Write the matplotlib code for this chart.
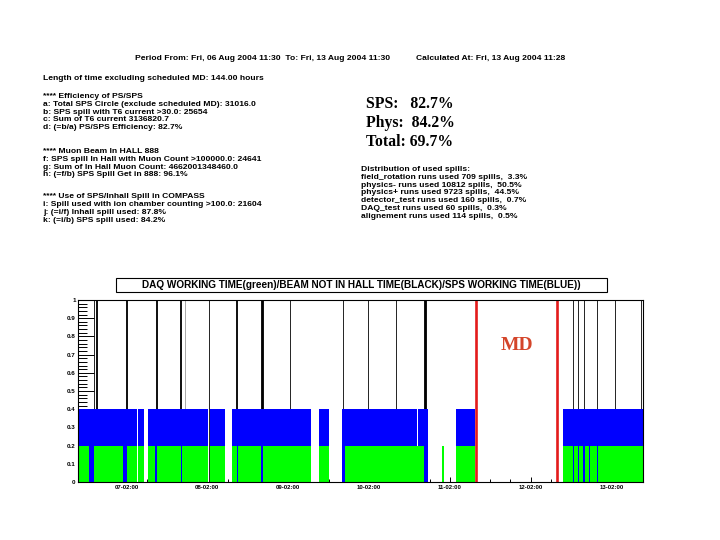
import matplotlib
matplotlib.use("Agg")
import matplotlib.pyplot as plt
from matplotlib.patches import Rectangle

# hours counted from Fri, 06 Aug 2004 11:30
sps_start = [0.0, 18.0, 20.79, 39.2, 45.83, 71.58, 78.5, 101.17, 112.45, 144.23]
sps_end = [17.52, 19.78, 38.79, 43.84, 69.38, 74.55, 100.78, 104.14, 118.15, 168.0]

daq_start = [0.0, 4.75, 14.73, 18.0, 20.79, 23.46, 31.07, 39.2, 45.83, 47.7, 55.04,
             71.58, 79.3, 108.2, 112.45, 144.23, 147.5, 148.98, 150.59, 152.25, 154.45]
daq_end = [3.36, 13.54, 17.52, 19.78, 22.96, 30.68, 38.61, 43.84, 47.31, 54.53, 69.38,
           74.55, 102.77, 108.7, 118.1, 147.11, 148.6, 150.17, 151.95, 154.15, 168.0]

beam_off = [4.75, 5.64, 14.49, 23.26, 30.59, 39.09, 47.16, 54.74, 63.06, 78.89,
            86.31, 94.54, 103.15, 147.2, 148.69, 150.44, 154.3, 159.65, 167.22]
beam_off_len = [0.05, 0.15, 0.05, 0.3, 0.3, 0.05, 0.05, 0.75, 0.05, 0.05,
                0.05, 0.05, 0.8, 0.05, 0.05, 0.1, 0.1, 0.1, 0.05]
beam_partial = [31.87]

md_start = 118.42
md_end = 142.36

day_ticks = [14.5, 38.5, 62.5, 86.5, 110.5, 134.5, 158.5]
day_labels = ["07-02:00", "08-02:00", "09-02:00", "10-02:00", "11-02:00", "12-02:00", "13-02:00"]
y_ticks = [0, 0.1, 0.2, 0.3, 0.4, 0.5, 0.6, 0.7, 0.8, 0.9, 1]
y_labels = ["0", "0.1", "0.2", "0.3", "0.4", "0.5", "0.6", "0.7", "0.8", "0.9", "1"]

header_left = "Period From: Fri, 06 Aug 2004 11:30  To: Fri, 13 Aug 2004 11:30"
header_right = "Calculated At: Fri, 13 Aug 2004 11:28"
length_line = "Length of time excluding scheduled MD: 144.00 hours"
eff_lines = ["**** Efficiency of PS/SPS",
             "a: Total SPS Circle (exclude scheduled MD): 31016.0",
             "b: SPS spill with T6 current >30.0: 25654",
             "c: Sum of T6 current 3136820.7",
             "d: (=b/a) PS/SPS Efficiency: 82.7%"]
muon_lines = ["**** Muon Beam In HALL 888",
              "f: SPS spill In Hall with Muon Count >100000.0: 24641",
              "g: Sum of In Hall Muon Count: 4662001348460.0",
              "h: (=f/b) SPS Spill Get in 888: 96.1%"]
use_lines = ["**** Use of SPS/Inhall Spill in COMPASS",
             "i: Spill used with ion chamber counting >100.0: 21604",
             "j: (=i/f) Inhall spill used: 87.8%",
             "k: (=i/b) SPS spill used: 84.2%"]
summary_lines = ["SPS:   82.7%", "Phys:  84.2%", "Total: 69.7%"]
dist_lines = ["Distribution of used spills:",
              "field_rotation runs used 709 spills,  3.3%",
              "physics- runs used 10812 spills,  50.5%",
              "physics+ runs used 9723 spills,  44.5%",
              "detector_test runs used 160 spills,  0.7%",
              "DAQ_test runs used 60 spills,  0.3%",
              "alignement runs used 114 spills,  0.5%"]
title = "DAQ WORKING TIME(green)/BEAM NOT IN HALL TIME(BLACK)/SPS WORKING TIME(BLUE))"

W, H = 720.0, 540.0


def fx(px):
    return px / W


def fy(py):
    return 1 - py / H


def block(fig, lines, x, y0, step, **kw):
    for k, s in enumerate(lines):
        fig.text(fx(x), fy(y0 + k * step), s, va="center", ha="left", **kw)


def main():
    plt.rcParams['font.family'] = ['Liberation Sans', 'DejaVu Sans']
    plt.rcParams['font.weight'] = 'bold'
    fig = plt.figure(figsize=(7.2, 5.4), dpi=100)

    # texto de cabecera
    fs = 6.1
    fig.text(fx(135), fy(59), header_left, fontsize=fs, va="center")
    fig.text(fx(416), fy(59), header_right, fontsize=fs, va="center")
    block(fig, [length_line], 42.7, 78.3, 7.7, fontsize=fs)
    block(fig, eff_lines, 42.7, 96.7, 7.65, fontsize=fs)
    block(fig, muon_lines, 42.7, 151.7, 7.75, fontsize=fs)
    block(fig, use_lines, 42.7, 196.7, 7.85, fontsize=fs)
    block(fig, summary_lines, 366, 104.3, 18.7, fontsize=11.3,
          family='Liberation Serif')
    block(fig, dist_lines, 360.7, 169.3, 7.9, fontsize=fs)

    # caja del titulo
    fig.add_artist(Rectangle((fx(116), fy(291.7)), (607 - 116) / W, 13.4 / H,
                             transform=fig.transFigure, fill=False,
                             edgecolor='k', linewidth=0.8))
    fig.text(fx(361), fy(285), title, fontsize=7.2, ha="center", va="center")

    ax = fig.add_axes([fx(77.7), fy(482), (643.3 - 77.7) / W, 182 / H])

    ax.bar(beam_off, 1.0, width=beam_off_len, align='center', color='k',
           edgecolor='k', linewidth=0.6, zorder=1.0)
    ax.bar(beam_partial, 1.0, width=0.05, align='center', color='#9a9a9a',
           edgecolor='#9a9a9a', linewidth=0.6, zorder=1.0)
    ax.bar(sps_start, 0.4, width=[e - s for s, e in zip(sps_start, sps_end)],
           align='edge', color='#0000ff', linewidth=0, zorder=1.1)
    ax.bar(daq_start, 0.2, width=[e - s for s, e in zip(daq_start, daq_end)],
           align='edge', color='#00ff00', linewidth=0, zorder=1.2)
    for t in (md_start, md_end):
        ax.axvline(t, color='#e31b1b', linewidth=1.9, zorder=1.3)
    ax.text((md_start + md_end) / 2, 0.75, "MD", color='#d4452a', fontsize=14,
            fontweight='bold', family='Liberation Serif', ha='center', va='center')

    ax.set_xticks(day_ticks)
    ax.set_xticklabels(day_labels)
    ax.set_xticks([t + d for t in day_ticks for d in (-12, -6, 6)], minor=True)
    ax.set_yticks(y_ticks)
    ax.set_yticklabels(y_labels)
    ax.set_yticks([i * 0.02 for i in range(51)], minor=True)
    # limites despues de los ticks
    ax.set_xlim(0, 168)
    ax.set_ylim(0, 1)
    ax.set_axisbelow(True)
    ax.tick_params(axis='x', which='major', direction='in', length=5.5 * 0.72,
                   width=0.7, labelsize=4.3, pad=2)
    ax.tick_params(axis='x', which='minor', direction='in', length=2.7 * 0.72, width=0.7)
    ax.tick_params(axis='y', which='major', direction='in', length=16 * 0.72,
                   width=0.7, labelsize=4.5, pad=1.5)
    ax.tick_params(axis='y', which='minor', direction='in', length=8.5 * 0.72, width=0.7)
    for sp in ax.spines.values():
        sp.set_linewidth(0.8)

    fig.savefig("out.png", dpi=100)


if __name__ == "__main__":
    main()
